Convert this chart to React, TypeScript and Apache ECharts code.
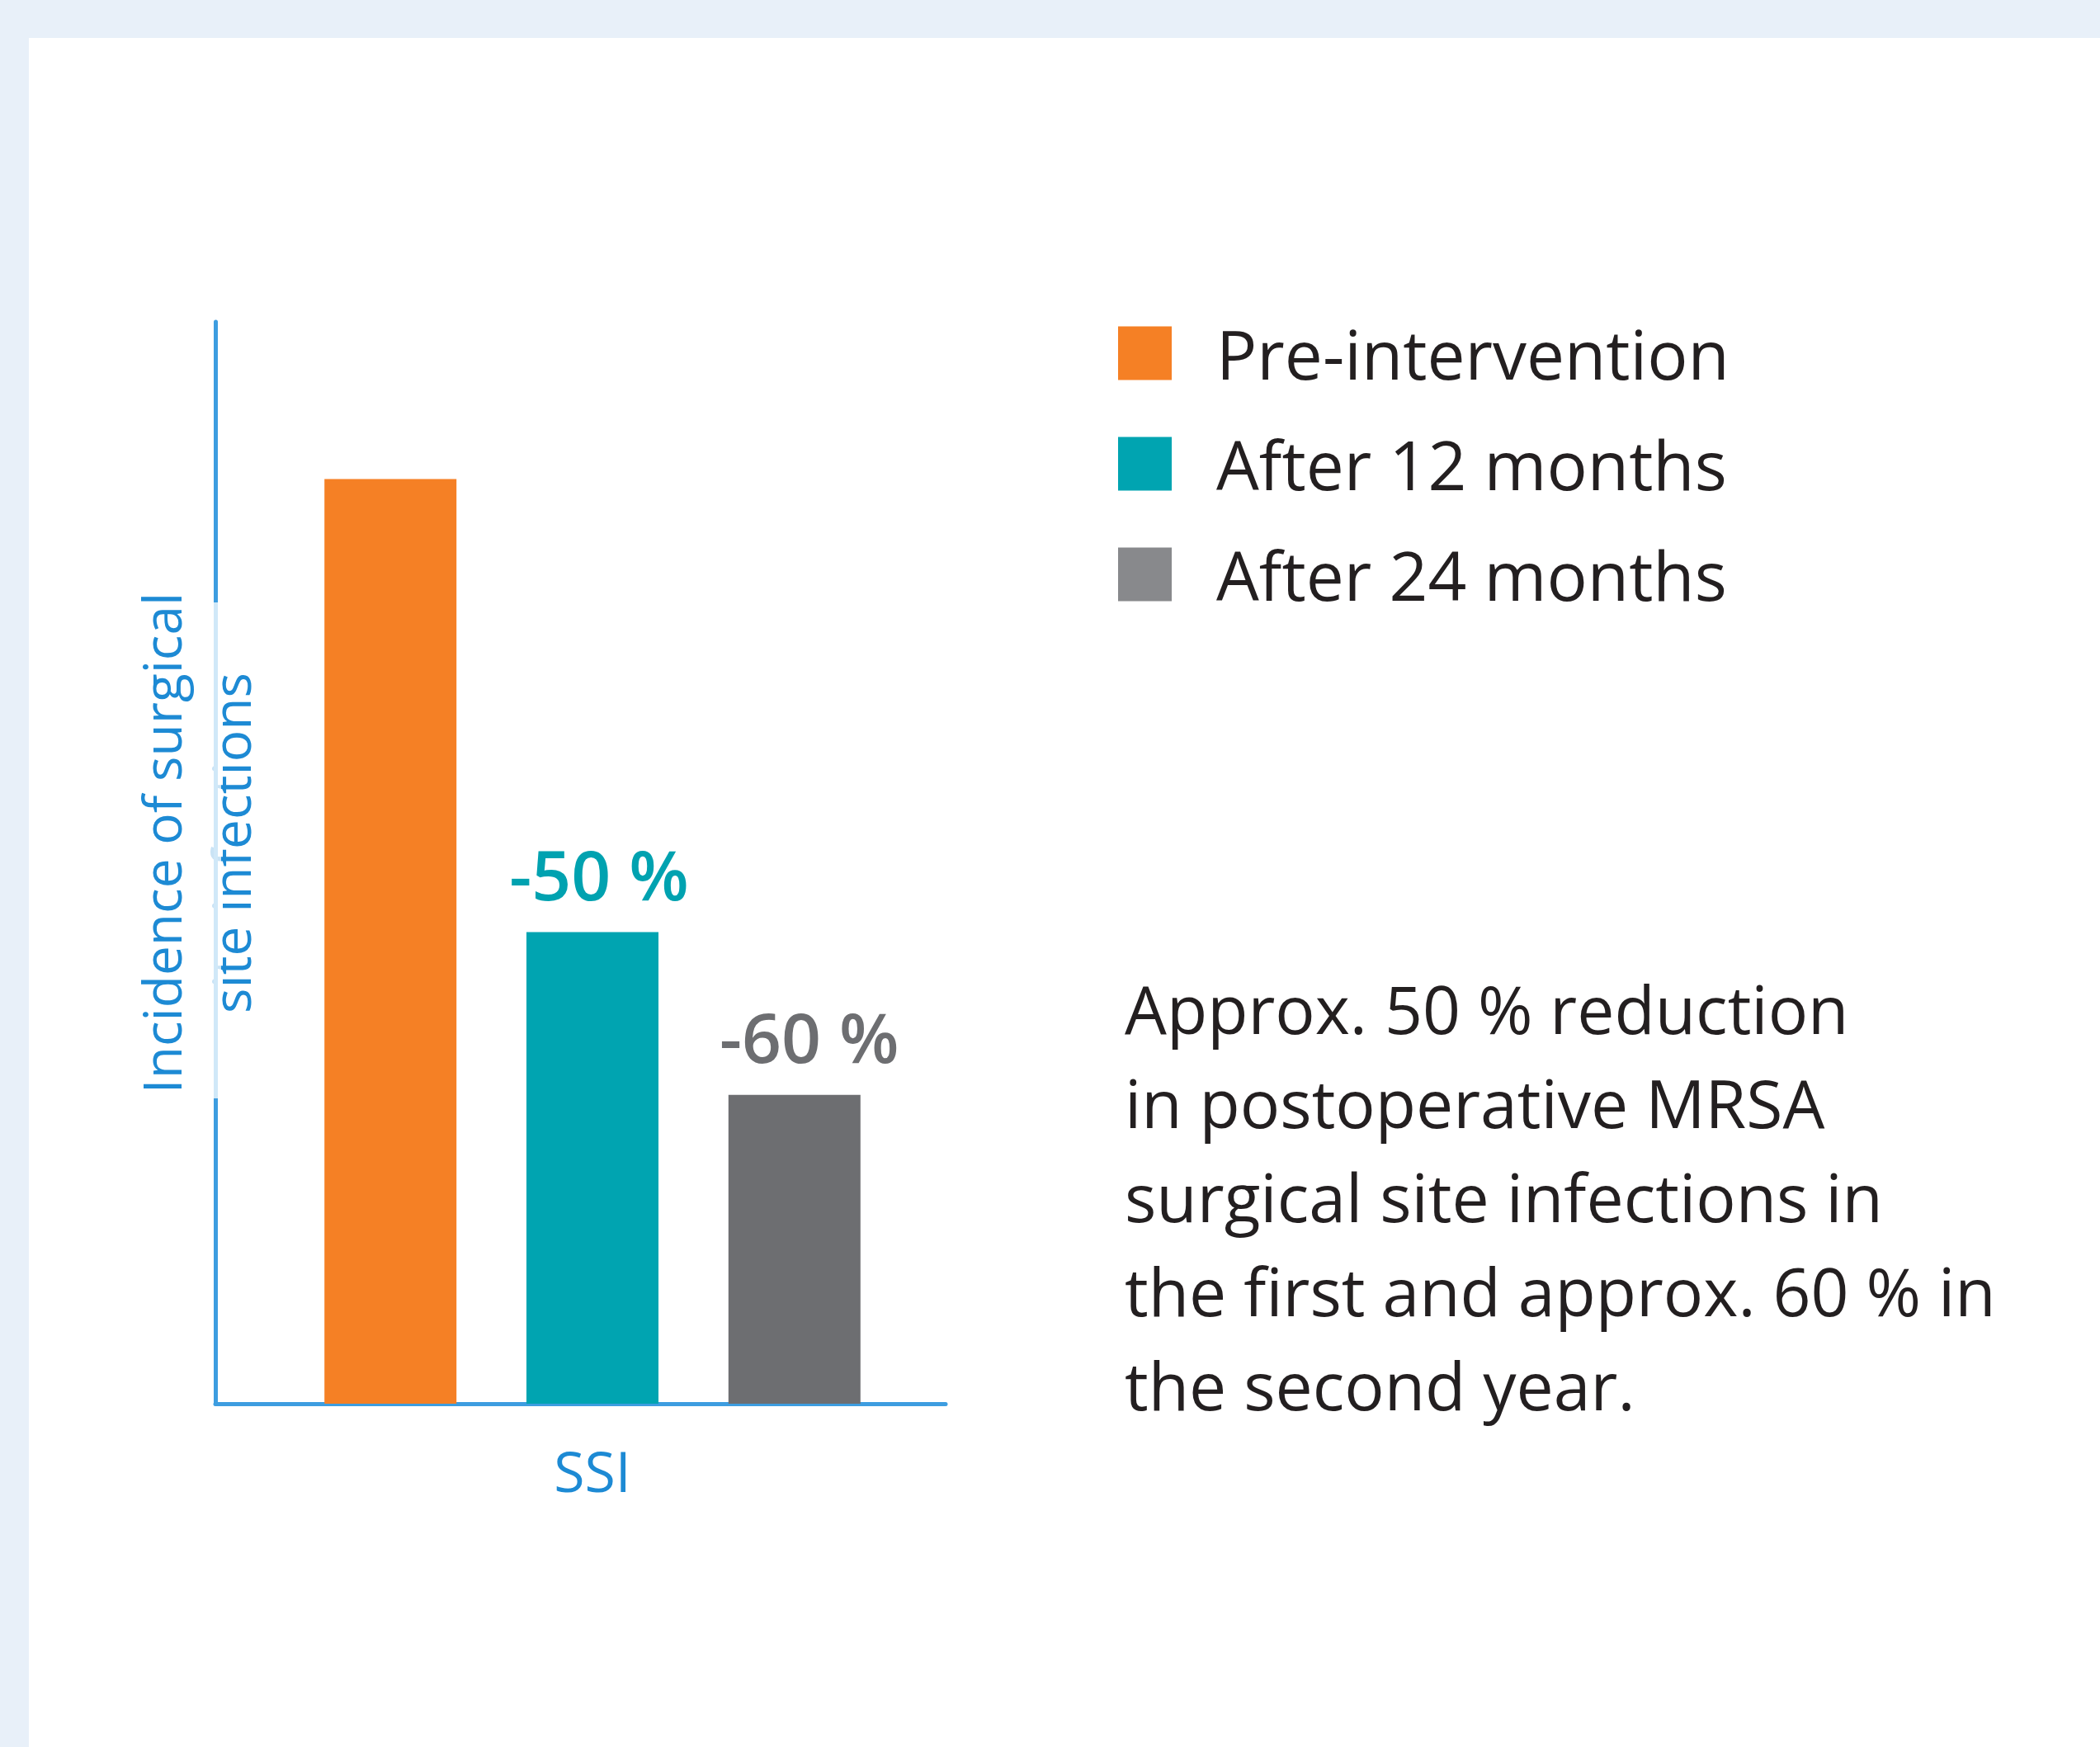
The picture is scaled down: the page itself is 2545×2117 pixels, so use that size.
import React, { useEffect, useRef } from "react";
import * as echarts from "echarts";

const categories = ["SSI"];
const seriesNames = ["Pre-intervention", "After 12 months", "After 24 months"];
const seriesValues = [100, 51, 33.4];
const seriesLabels = ["", "-50 %", "-60 %"];
const labelOffsets = [0, 8, 18];
const barColors = ["#f58025", "#00a4b1", "#6d6e71"];
const legendColors = ["#f58025", "#00a4b1", "#88898c"];
const labelColors = ["#f58025", "#00a2b0", "#6d6e71"];
const yAxisTitle = "Incidence of surgical\nsite infections";
const noteText =
  "Approx. 50 % reduction\nin postoperative MRSA\nsurgical site infections in\nthe first and approx. 60 % in\nthe second year.";

const FONT = "'Open Sans', 'Noto Sans', sans-serif";
const BLUE = "#1d8ad4";
const AXIS_BLUE = "#3d9de0";
const Y_MAX = 117;

export default function App() {
  const ref = useRef<HTMLDivElement>(null);
  useEffect(() => {
    document.body.style.margin = "0";
    const chart = echarts.init(ref.current!, null, { renderer: "svg" });
    chart.setOption({
      animation: false,
      backgroundColor: "#e8f0f9",
      grid: [
        { left: 261, top: 390, right: 1399, bottom: 416 },
        { left: 261, top: 390, right: 1370, bottom: 416 },
      ],
      legend: {
        orient: "vertical",
        left: 1350,
        top: 382,
        itemWidth: 65,
        itemHeight: 65,
        itemGap: 52,
        icon: "rect",
        selectedMode: false,
        textStyle: {
          fontSize: 82,
          lineHeight: 65,
          color: "#231f20",
          fontFamily: FONT,
          padding: [0, 0, 0, 49],
        },
        data: seriesNames.map((n, i) => ({ name: n, itemStyle: { color: legendColors[i] } })),
      },
      xAxis: [
        {
          type: "category",
          gridIndex: 0,
          data: categories,
          axisLine: { lineStyle: { color: AXIS_BLUE, width: 5 } },
          axisTick: { show: false },
          axisLabel: { show: false },
        },
        {
          type: "category",
          gridIndex: 1,
          data: categories,
          axisLine: { show: false },
          axisTick: { show: false },
          axisLabel: { color: BLUE, fontSize: 68, margin: 46, fontFamily: FONT, lineHeight: 68 },
        },
      ],
      yAxis: [
        {
          type: "value",
          gridIndex: 0,
          min: 0,
          max: Y_MAX,
          axisLine: { show: true, lineStyle: { color: AXIS_BLUE, width: 5 } },
          axisTick: { show: false },
          axisLabel: { show: false },
          splitLine: { show: false },
          name: yAxisTitle,
          nameLocation: "middle",
          nameRotate: 90,
          nameGap: -60,
          nameTextStyle: {
            color: BLUE,
            fontSize: 64,
            lineHeight: 84,
            fontFamily: FONT,
            padding: [0, 0, 0, 48],
          },
        },
        {
          type: "value",
          gridIndex: 1,
          min: 0,
          max: Y_MAX,
          show: false,
          splitLine: { show: false },
        },
      ],
      graphic: [
        {
          type: "rect",
          left: 35,
          top: 46,
          z: -100,
          shape: { width: 2510, height: 2071 },
          style: { fill: "#ffffff" },
        },
        {
          type: "rect",
          left: 254,
          top: 730,
          z: 100,
          shape: { width: 14, height: 601 },
          style: { fill: "rgba(255,255,255,0.76)" },
        },
        {
          type: "text",
          left: 1363,
          top: 1165,
          style: {
            text: noteText,
            fontSize: 80.5,
            lineHeight: 114,
            fontFamily: FONT,
            fill: "#231f20",
          },
        },
      ],
      series: seriesNames.map((n, i) => ({
        name: n,
        type: "bar",
        xAxisIndex: 1,
        yAxisIndex: 1,
        data: [seriesValues[i]],
        barWidth: 160,
        barGap: "53%",
        itemStyle: { color: barColors[i] },
        label: {
          show: seriesLabels[i] !== "",
          position: "top",
          distance: 29,
          offset: [labelOffsets[i], 0],
          formatter: seriesLabels[i],
          color: labelColors[i],
          fontSize: 84,
          lineHeight: 84,
          fontWeight: 600,
          fontFamily: FONT,
        },
      })),
    });
    return () => chart.dispose();
  }, []);
  return <div ref={ref} style={{ width: 2545, height: 2117 }} />;
}
